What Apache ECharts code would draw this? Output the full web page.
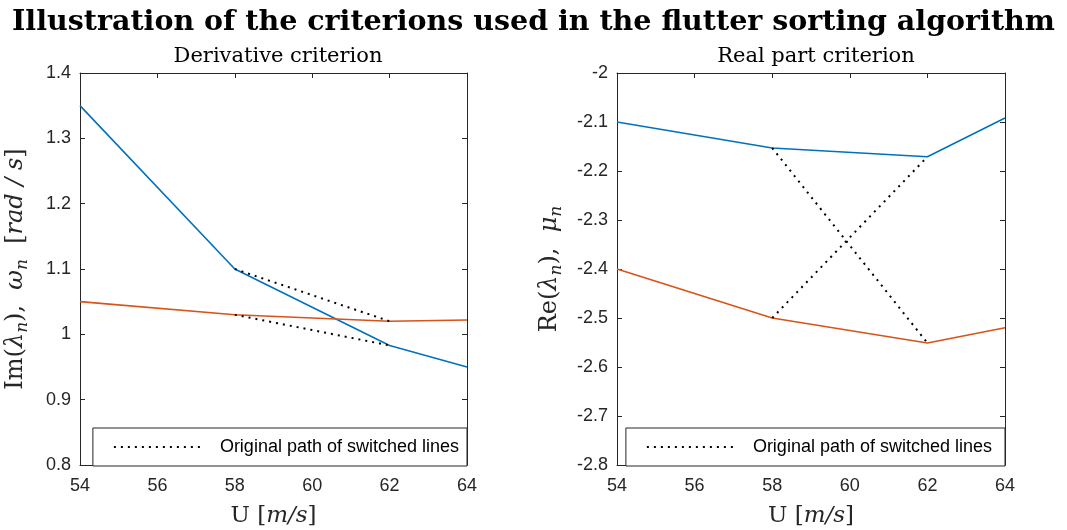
<!DOCTYPE html>
<html>
<head>
<meta charset="utf-8">
<script src="https://cdn.jsdelivr.net/npm/echarts@6/dist/echarts.min.js"></script>
<style>html,body{margin:0;padding:0;background:#fff}#c{width:1067px;height:530px}</style>
</head>
<body>
<div id="c"></div>
<script>
// ---- data ----
const U = [54, 58, 62, 64];
const imBlue = [1.35, 1.10, 0.983, 0.95];
const imOrange = [1.05, 1.03, 1.02, 1.022];
const imSwitchA = [[58, 1.10], [62, 1.02]];
const imSwitchB = [[58, 1.03], [62, 0.983]];
const reBlue = [-2.10, -2.153, -2.171, -2.092];
const reOrange = [-2.40, -2.50, -2.551, -2.52];
const reSwitchA = [[58, -2.153], [62, -2.551]];
const reSwitchB = [[58, -2.50], [62, -2.171]];
const legendName = 'Original path of switched lines';
const titleMain = 'Illustration of the criterions used in the flutter sorting algorithm';
const titleLeft = 'Derivative criterion';
const titleRight = 'Real part criterion';

const pair = (xs, ys) => xs.map((x, i) => [x, ys[i]]);
const BLUE = '#0072BD', ORANGE = '#D95319', AX = '#262626';
const serif = 'DejaVu Serif';
const sans = 'Liberation Sans';

const grids = [
  {left: 80, top: 73, width: 387, height: 392, containLabel: false, outerBoundsMode: 'none'},
  {left: 617, top: 73, width: 388, height: 392, containLabel: false, outerBoundsMode: 'none'}
];

function xAxes(gi) {
  const base = {gridIndex: gi, type: 'value', min: 54, max: 64, interval: 2,
    splitLine: {show: false},
    axisLine: {show: true, onZero: false, lineStyle: {color: AX, width: 1}},
    axisTick: {show: true, inside: true, length: 5, lineStyle: {color: AX}}};
  return [
    Object.assign({}, base, {position: 'bottom',
      axisLabel: {color: AX, fontFamily: sans, fontSize: 18, margin: 12},
      name: '{r|U }{r|[}{i|m/s}{r|]}', nameLocation: 'middle', nameGap: 40,
      nameTextStyle: {fontSize: 23, rich: {
        r: {fontFamily: serif, fontSize: 23, color: AX},
        i: {fontFamily: serif, fontSize: 23, fontStyle: 'italic', color: AX}}}}),
    Object.assign({}, base, {position: 'top', axisLabel: {show: false}})
  ];
}
function yAxes(gi, min, max, nameRich, gap) {
  const base = {gridIndex: gi, type: 'value', min: min, max: max, interval: 0.1,
    splitLine: {show: false},
    axisLine: {show: true, onZero: false, lineStyle: {color: AX, width: 1}},
    axisTick: {show: true, inside: true, length: 5, lineStyle: {color: AX}}};
  return [
    Object.assign({}, base, {position: 'left',
      axisLabel: {color: AX, fontFamily: sans, fontSize: 18, margin: 9,
        formatter: v => String(Math.round(v * 10) / 10)},
      name: nameRich, nameLocation: 'middle', nameGap: gap, nameRotate: 90,
      nameTextStyle: {fontSize: 24, rich: {
        r: {fontFamily: serif, fontSize: 24, color: AX, lineHeight: 30},
        i: {fontFamily: serif, fontSize: 24, fontStyle: 'italic', color: AX, lineHeight: 30},
        s: {fontFamily: serif, fontSize: 17, fontStyle: 'italic', color: AX, lineHeight: 30, verticalAlign: 'bottom', padding: [9, 0, 0, 0]}}}}),
    Object.assign({}, base, {position: 'right', axisLabel: {show: false}})
  ];
}

const xs = xAxes(0).concat(xAxes(1));
const ys = yAxes(0, 0.8, 1.4, '{r|Im(}{i|λ}{s|n}{r|),  }{i|ω}{s|n}{r|  [}{i|rad / s}{r|]}', 49)
  .concat(yAxes(1, -2.8, -2, '{r|Re(}{i|λ}{s|n}{r|),  }{i|μ}{s|n}', 52));

function line(name, data, xi, yi, color, dotted) {
  return {type: 'line', name: name, data: data, xAxisIndex: xi, yAxisIndex: yi,
    showSymbol: false, symbol: 'none', animation: false, silent: true,
    lineStyle: {color: color, width: dotted ? 2 : 1.6, type: dotted ? [2, 5] : 'solid'},
    itemStyle: {color: color}, z: dotted ? 3 : 2};
}

const series = [
  line('blueL', pair(U, imBlue), 0, 0, BLUE, false),
  line('orangeL', pair(U, imOrange), 0, 0, ORANGE, false),
  line(legendName, imSwitchA, 0, 0, '#000', true),
  line(legendName, imSwitchB, 0, 0, '#000', true),
  line('blueR', pair(U, reBlue), 2, 2, BLUE, false),
  line('orangeR', pair(U, reOrange), 2, 2, ORANGE, false),
  line(legendName + ' ', reSwitchA, 2, 2, '#000', true),
  line(legendName + ' ', reSwitchB, 2, 2, '#000', true)
];

function legend(right, name) {
  return {show: true, data: [name], right: right, top: 428, orient: 'horizontal',
    backgroundColor: '#fff', borderColor: AX, borderWidth: 1, borderRadius: 0,
    padding: [10, 8, 10, 20], itemWidth: 88, itemHeight: 14,
    itemStyle: {opacity: 0},
    lineStyle: {color: '#000', width: 2, type: [2, 5], opacity: 1},
    textStyle: {fontFamily: sans, fontSize: 18, color: '#000', padding: [0, 0, 0, 13]},
    selectedMode: false};
}

const chart = echarts.init(document.getElementById('c'), null, {renderer: 'canvas'});
chart.setOption({
  animation: false,
  backgroundColor: '#fff',
  title: [
    {text: titleMain, left: 'center', top: 3, textStyle: {fontFamily: serif, fontWeight: 'bold', fontSize: 28.5, color: '#000'}},
    {text: titleLeft, left: 273, textAlign: 'center', top: 41, textStyle: {fontFamily: serif, fontWeight: 'normal', fontSize: 21, color: '#000'}},
    {text: titleRight, left: 811, textAlign: 'center', top: 41, textStyle: {fontFamily: serif, fontWeight: 'normal', fontSize: 21, color: '#000'}}
  ],
  grid: grids,
  xAxis: xs,
  yAxis: ys,
  legend: [legend(600, legendName), legend(62, legendName + ' ')],
  series: series
});
</script>
</body>
</html>
